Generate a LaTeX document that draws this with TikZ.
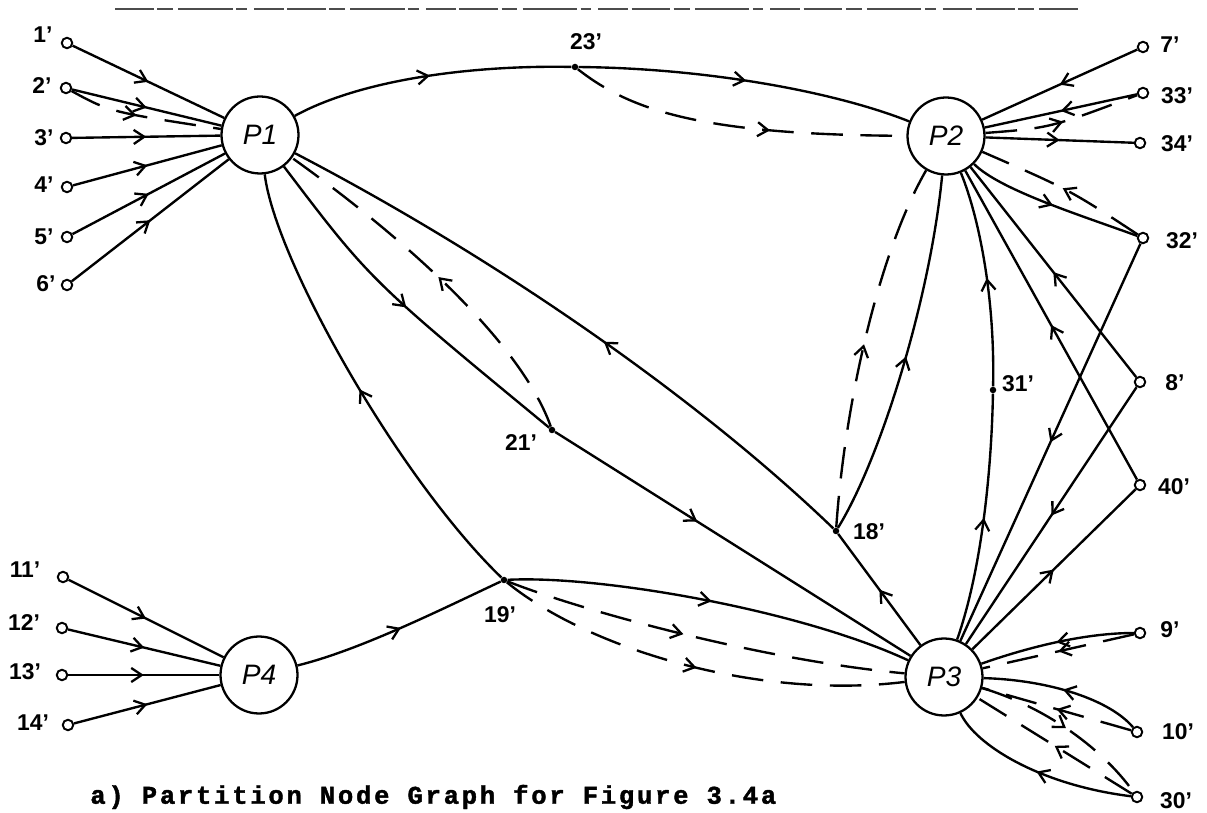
\documentclass[tikz,border=0pt]{standalone}
\usepackage{fontspec}
\setmainfont{Liberation Sans}
\newfontfamily\capfont[LetterSpace=11,FakeBold=1.6]{Liberation Mono Bold}
\usetikzlibrary{arrows.meta,decorations.markings}

\tikzset{
  wire/.style={line width=1.35pt},
  dashwire/.style={line width=1.35pt, dash pattern=on 18pt off 10pt},
  midarrow/.style={postaction={decorate},decoration={markings,
      mark=at position #1 with {\arrow{Straight Barb[length=6pt,width=8pt,line width=1.3pt]}}}},
  midarrow/.default=0.5,
  part/.style={circle,draw,line width=1.3pt,minimum size=1.54cm,inner sep=0pt,
      font=\itshape\fontsize{16}{16}\selectfont},
  term/.style={circle,draw,line width=1.1pt,minimum size=0.21cm,inner sep=0pt,fill=white},
  junc/.style={circle,fill,inner sep=0pt,minimum size=0.13cm},
  lbl/.style={font=\bfseries\fontsize{13}{13}\selectfont,inner sep=1pt}
}

\begin{document}
\begin{tikzpicture}[x=0.02cm,y=-0.02cm]
\fill[white] (0,0) rectangle (1207,813);
\useasboundingbox (0,0) rectangle (1207,813);

% remnant of the text line above the figure
\draw[black!70,line width=1.4pt,dash pattern=on 22pt off 2pt on 9pt off 3pt on 31pt off 2pt on 6pt off 4pt on 17pt off 2pt]
  (115,9) -- (1078,9);

% partition nodes
\node[part] (P1) at (260,135) {P1};
\node[part] (P2) at (946,136) {P2};
\node[part] (P3) at (944,677) {P3};
\node[part] (P4) at (259,675) {P4};

% terminals on the left of P1
\node[term] (t1) at (67,43) {};
\node[term] (t2) at (66,88) {};
\node[term] (t3) at (66,138) {};
\node[term] (t4) at (67,187) {};
\node[term] (t5) at (67,237) {};
\node[term] (t6) at (67,285) {};
\node[lbl] (l1) at (43,35) {1'};
\node[lbl] (l2) at (42,86) {2'};
\node[lbl] (l3) at (44,138) {3'};
\node[lbl] (l4) at (44,185) {4'};
\node[lbl] (l5) at (44,237) {5'};
\node[lbl] (l6) at (46,284) {6'};

% terminals on the right
\node[term] (t7) at (1143,47) {};
\node[term] (t33) at (1143,93) {};
\node[term] (t34) at (1140,143) {};
\node[term] (t32) at (1143,238) {};
\node[term] (t8) at (1140,382) {};
\node[term] (t40) at (1140,485) {};
\node[term] (t9) at (1140,633) {};
\node[term] (t10) at (1137,732) {};
\node[term] (t30) at (1137,797) {};
\node[lbl] (l7) at (1170,45) {7'};
\node[lbl] (l33) at (1177,96) {33'};
\node[lbl] (l34) at (1177,144) {34'};
\node[lbl] (l32) at (1182,241) {32'};
\node[lbl] (l8) at (1175,383) {8'};
\node[lbl] (l40) at (1174,487) {40'};
\node[lbl] (l9) at (1170,630) {9'};
\node[lbl] (l10) at (1178,732) {10'};
\node[lbl] (l30) at (1176,801) {30'};

% terminals on the left of P4
\node[term] (t11) at (63,577) {};
\node[term] (t12) at (62,628) {};
\node[term] (t13) at (62,675) {};
\node[term] (t14) at (68,725) {};
\node[lbl] (l11) at (25,570) {11'};
\node[lbl] (l12) at (24,623) {12'};
\node[lbl] (l13) at (25,672) {13'};
\node[lbl] (l14) at (33,723) {14'};

% branch points
\node[junc] (d23) at (575,67) {};
\node[junc] (d21) at (552,430) {};
\node[junc] (d18) at (836,531) {};
\node[junc] (d19) at (504,580) {};
\node[junc] (d31) at (993,390) {};
\node[lbl] (l23) at (586,42) {23'};
\node[lbl] (l21) at (521,443) {21'};
\node[lbl] (l18) at (869,532) {18'};
\node[lbl] (l19) at (500,615) {19'};
\node[lbl] (l31) at (1018,384) {31'};

% inputs of P1
\draw[wire,midarrow] (t1) -- (P1);
\draw[wire,midarrow] (t2) -- (P1);
\draw[dashwire,midarrow=0.45] (t2) .. controls (110,112) .. (P1);
\draw[wire,midarrow] (t3) -- (P1);
\draw[wire,midarrow] (t4) -- (P1);
\draw[wire,midarrow] (t5) -- (P1);
\draw[wire,midarrow] (t6) -- (P1);

% P1 to P2 through 23'
\draw[wire,midarrow] (P1) .. controls (360,80) and (470,65) .. (d23);
\draw[wire,midarrow] (d23) .. controls (700,68) and (830,90) .. (P2);
\draw[dashwire,midarrow=0.6] (d23) .. controls (630,110) and (700,135) .. (P2);

% right side of P2
\draw[wire,midarrow] (t7) -- (P2);
\draw[wire,midarrow] (t33) -- (P2);
\draw[dashwire,midarrow] (P2) .. controls (1050,128) .. (t33);
\draw[wire,midarrow] (P2) -- (t34);
\draw[wire,midarrow] (P2) .. controls (1000,190) and (1080,215) .. (t32);
\draw[dashwire,midarrow] (t32) .. controls (1070,190) .. (P2);

% lines between P2 and the lower nodes
\draw[dashwire,midarrow] (d18) .. controls (845,400) and (880,250) .. (P2);
\draw[wire,midarrow] (d18) .. controls (880,460) and (930,300) .. (P2);
\draw[wire,midarrow] (P3) .. controls (985,560) and (992,450) .. (d31);
\draw[wire,midarrow] (d31) .. controls (995,300) and (980,220) .. (P2);
\draw[wire,midarrow] (t40) -- (P2);
\draw[wire,midarrow] (t8) -- (P2);

% lines between the right terminals and P3
\draw[wire,midarrow] (t32) -- (P3);
\draw[wire,midarrow] (t8) -- (P3);
\draw[wire,midarrow] (P3) -- (t40);
\draw[wire,midarrow] (t9) .. controls (1080,633) and (1020,650) .. (P3);
\draw[dashwire,midarrow] (t9) -- (P3);
\draw[wire,midarrow] (t10) .. controls (1110,700) and (1050,680) .. (P3);
\draw[dashwire,midarrow] (t10) -- (P3);
\draw[dashwire,midarrow] (P3) .. controls (1040,705) and (1100,745) .. (t30);
\draw[dashwire,midarrow] (t30) -- (P3);
\draw[wire,midarrow] (t30) .. controls (1040,785) and (975,745) .. (P3);

% P3 back to P1 through 18'
\draw[wire,midarrow] (P3) -- (d18);
\draw[wire,midarrow=0.45] (d18) .. controls (700,400) and (500,260) .. (P1);

% P1 to P3 through 21'
\draw[wire,midarrow] (P1) .. controls (370,280) .. (d21);
\draw[dashwire,midarrow] (d21) .. controls (520,340) and (400,235) .. (P1);
\draw[wire,midarrow=0.4] (d21) -- (P3);

% P4 and the branch point 19'
\draw[wire,midarrow] (t11) -- (P4);
\draw[wire,midarrow] (t12) -- (P4);
\draw[wire,midarrow] (t13) -- (P4);
\draw[wire,midarrow] (t14) -- (P4);
\draw[wire,midarrow] (P4) .. controls (360,650) and (440,610) .. (d19);
\draw[wire,midarrow] (d19) .. controls (400,480) and (275,260) .. (P1);
\draw[wire,midarrow] (d19) .. controls (600,575) and (800,610) .. (P3);
\draw[dashwire,midarrow=0.45] (d19) .. controls (580,610) and (760,660) .. (P3);
\draw[dashwire,midarrow=0.5] (d19) .. controls (590,650) and (760,700) .. (P3);

% caption
\node[anchor=west,inner sep=0pt] (cap) at (90,797)
  {\capfont\fontsize{14.5}{14.5}\selectfont a) Partition Node Graph for Figure 3.4a};
\end{tikzpicture}
\end{document}
